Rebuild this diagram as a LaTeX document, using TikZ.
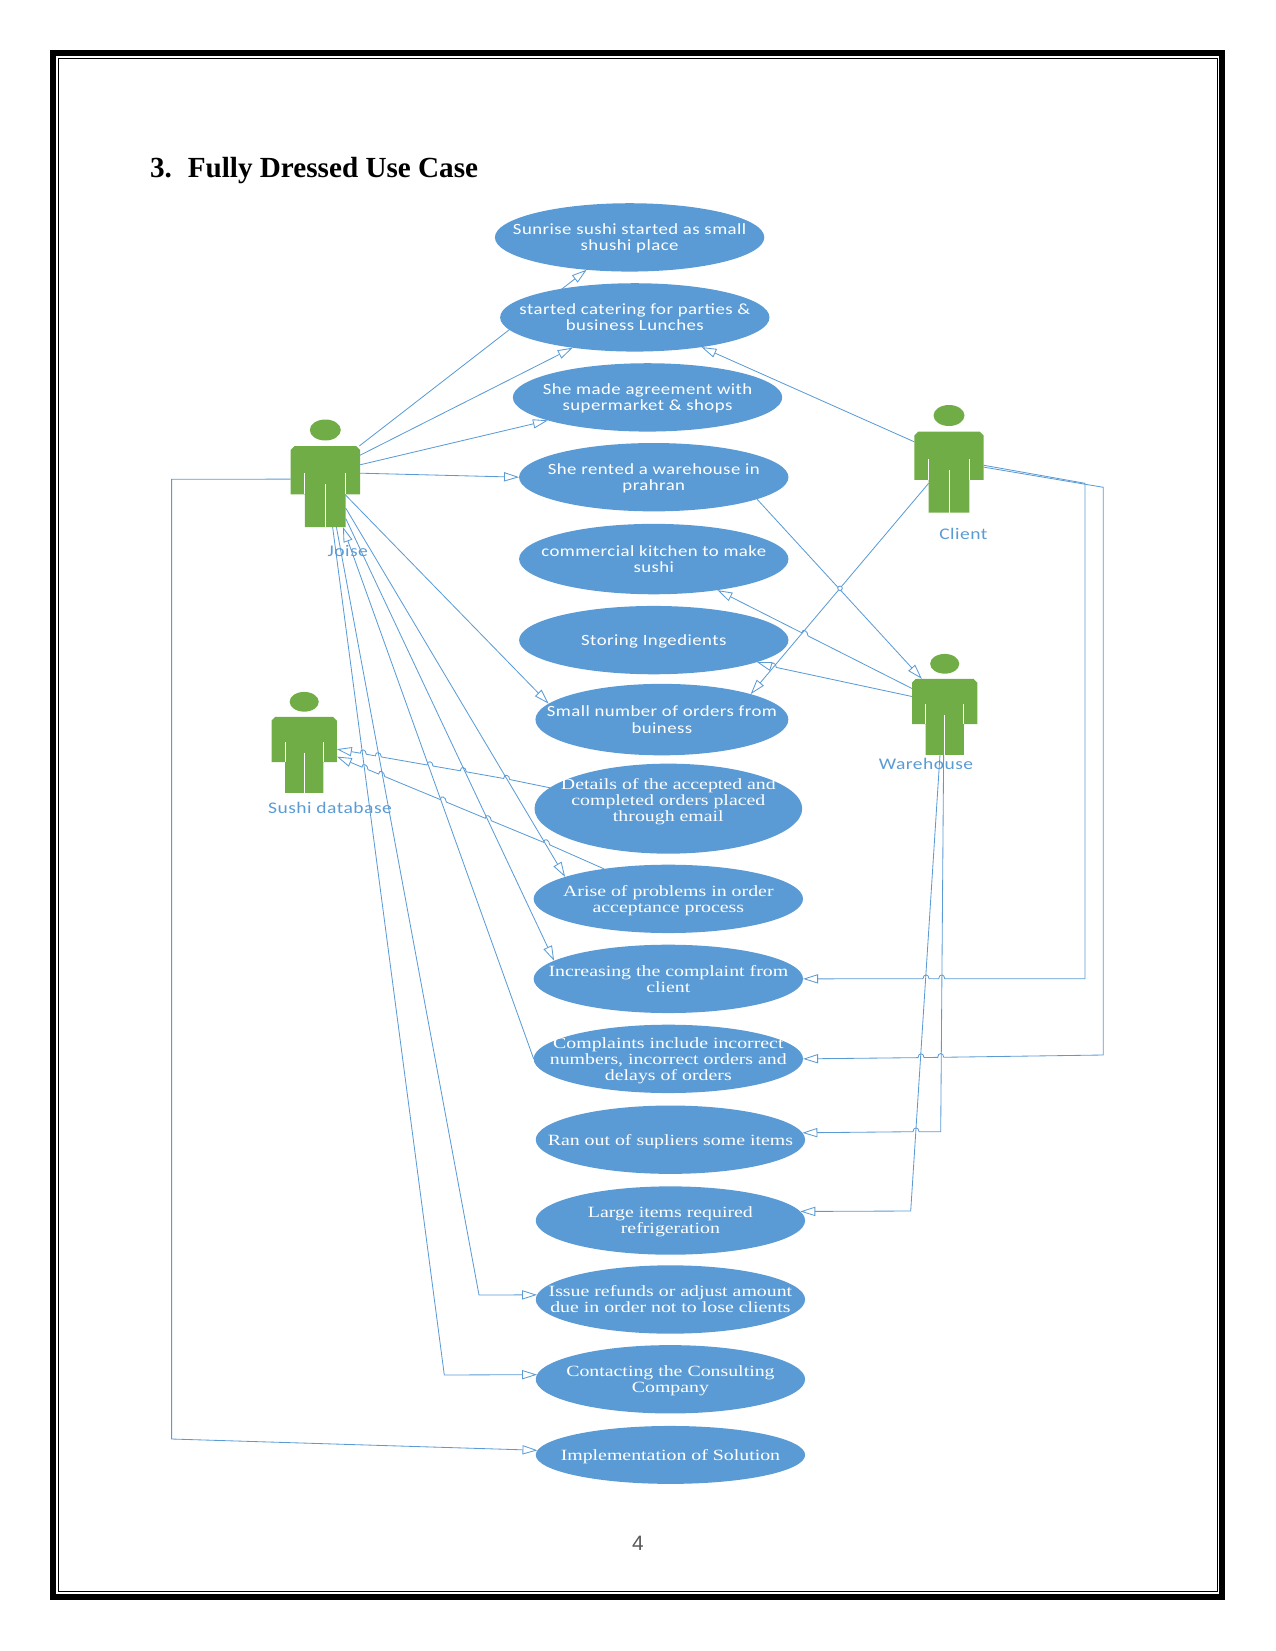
\documentclass[tikz,border=0pt]{standalone}
\usepackage{fontspec}
\setmainfont{Liberation Serif}
\newfontfamily\ucsans[FakeStretch=1.2, LetterSpace=3]{Carlito}
\newfontfamily\ucserif[FakeStretch=1.27]{Liberation Serif}
\newfontfamily\pagesans{Liberation Sans}
\usepackage{xcolor}
\usetikzlibrary{arrows.meta, positioning, shapes.geometric, backgrounds}
\definecolor{ucblue}{RGB}{91,155,213}
\definecolor{actorgreen}{RGB}{112,173,71}
\newcommand{\uctext}[2][-2.8pt]{\makebox[0pt]{\smash{\raisebox{#1}{\begin{tabular}{@{}c@{}}#2\end{tabular}}}}}
\newcommand{\hop}[3]{-- (#1-3,#2-3*#3) .. controls (#1-3,#2-3*#3-5) and (#1+3,#2+3*#3-5) .. (#1+3,#2+3*#3)}

\begin{document}
\begin{tikzpicture}[
    x=0.48pt, y=-0.48pt,
    node distance=5.6pt,
    usecase/.style={ellipse, fill=ucblue, text=white, inner sep=0pt, outer sep=0pt, minimum width=129.3pt, minimum height=32.8pt, font=\ucsans\fontsize{7.5pt}{7.7pt}\selectfont},
    sericase/.style={usecase, font=\ucserif\fontsize{7.5pt}{7.7pt}\selectfont},
    actorlabel/.style={text=ucblue, inner sep=0pt, font=\ucsans\fontsize{7.8pt}{8pt}\selectfont},
    actorpart/.style={rectangle, inner sep=0pt, outer sep=0pt, transform shape},
    wire/.style={draw=ucblue, line width=0.4pt, >={Triangle[open, fill=white, length=7.2pt, width=4.4pt]}},
    pics/actor/.style={code={
        \begin{scope}[scale=#1]
        \fill [actorgreen] (0,-56.5) ellipse (15.5 and 10.5);
        \fill [actorgreen] (-30.7,-40.5) -- (30.7,-40.5) -- (34.7,-36.5) -- (34.7,7.8) -- (20.4,7.8) -- (20.4,40.5) -- (-20.4,40.5) -- (-20.4,7.8) -- (-34.7,7.8) -- (-34.7,-36.5) -- cycle;
        \draw [white, line width=0.4pt] (-20.4,-13.2) -- (-20.4,7.8) (20.4,-13.2) -- (20.4,7.8) (0,-2.5) -- (0,40.5);
        \node (-body) [actorpart, minimum width=33.3pt, minimum height=38.9pt] at (0,0) {};
        \node (-legs) [actorpart, minimum width=19.6pt, minimum height=15.8pt] at (0,24.1) {};
        \end{scope}
    }}
]
\useasboundingbox (0,0) rectangle (1275,1651);

% page frame and heading
\draw [line width=2.88pt] (53,53) rectangle (1222,1597);
\draw [line width=0.48pt] (58.5,58.3) rectangle (1217.5,1591.5);
\node (title) [anchor=base west, inner sep=0pt, font=\bfseries\fontsize{14pt}{16pt}\selectfont] at (149.7,177.4) {3.\hspace{7.6pt}Fully Dressed Use Case};
\node (pagenum) [text=black!65, font=\pagesans\fontsize{10pt}{12pt}\selectfont] at (638,1543) {4};

% use cases
\node (sunrise) [usecase] at (629.6,237.4) {\uctext{Sunrise sushi started as small\\shushi place}};
\node (catering) [usecase, below=of sunrise, xshift=2.5pt] {\uctext{started catering for parties \&\\business Lunches}};
\node (agreement) [usecase, below=of catering, xshift=6.1pt] {\uctext{She made agreement with\\supermarket \& shops}};
\node (rented) [usecase, below=5.5pt of agreement, xshift=3pt] {\uctext{She rented a warehouse in\\prahran}};
\node (kitchen) [usecase, below=6pt of rented, minimum height=33.8pt] {\uctext{commercial kitchen to make\\sushi}};
\node (storing) [usecase, below=of kitchen] {\uctext{Storing Ingedients}};
\node (orders) [usecase, below=4.6pt of storing, xshift=3.9pt, minimum width=121.4pt, minimum height=34.3pt] {\uctext{Small number of orders from\\buiness}};
\node (details) [sericase, below=4pt of orders, xshift=3.1pt, minimum width=128.5pt, minimum height=43.2pt] {\uctext[1.5pt]{Details of the accepted and\\completed orders placed\\through email}};
\node (arise) [sericase, below=5.3pt of details] {\uctext{Arise of problems in order\\acceptance process}};
\node (complaint) [sericase, below=of arise] {\uctext{Increasing the complaint from\\client}};
\node (incorrect) [sericase, below=of complaint] {\uctext{Complaints include incorrect\\numbers, incorrect orders and\\delays of orders}};
\node (suppliers) [sericase, below=6pt of incorrect, xshift=1pt] {\uctext{Ran out of supliers some items}};
\node (large) [sericase, below=6pt of suppliers] {\uctext{Large items required\\refrigeration}};
\node (refunds) [sericase, below=5.1pt of large] {\uctext{Issue refunds or adjust amount\\due in order not to lose clients}};
\node (consulting) [sericase, below=5.5pt of refunds] {\uctext{Contacting the Consulting\\Company}};
\node (solution) [sericase, below=6pt of consulting, minimum height=27.8pt] {\uctext{Implementation of Solution}};

% actors
\pic (joise) at (325.3,486.5) {actor=1};
\pic (client) at (949,472) {actor=1};
\pic (warehouse) at (944.7,716.9) {actor=0.94};
\pic (sushidb) at (304.2,754.9) {actor=0.94};
\node (joiselabel) [actorlabel] at (347.7,551.3) {Joise};
\node (clientlabel) [actorlabel] at (963.3,533.7) {Client};
\node (warehouselabel) [actorlabel] at (926,764) {Warehouse};
\node (sushilabel) [actorlabel] at (330,808.3) {Sushi database};

% bends
\coordinate (refundbend) at (479,1295);
\coordinate (consultbend) at (444.3,1375);
\coordinate (solutiontop) at (171.6,479.3);
\coordinate (solutionbend) at (171.6,1439);
\coordinate (complainttop) at (1085,483.3);
\coordinate (complaintbend) at (1085,978.7);
\coordinate (incorrecttop) at (1103.3,487.3);
\coordinate (incorrectbend) at (1103.3,1055);
\coordinate (supplierbend) at (940.7,1131.7);
\coordinate (largebend) at (910.7,1211);

\begin{scope}[on background layer]
% joise
\draw [wire, ->] (joise-body.50) -- (sunrise.217);
\draw [wire, ->] (joise-body.42) -- (catering.206);
\draw [wire, ->] (joise-body.32) -- (agreement.193);
\draw [wire, ->] (joise-body.21) -- (rented.west);
\draw [wire, ->] (joise-legs.37) -- (orders.172);
\draw [wire, ->] (joise-legs.7) -- (arise.168);
\draw [wire, ->] (joise-legs.-21) -- (complaint.171);
\draw [wire, <-] (joise-legs.-43) -- (incorrect.west);
\draw [wire, ->] (joise-legs.-56) -- (refundbend) -- (refunds.178);
\draw [wire, ->] (joise-legs.-66) -- (consultbend) -- (consulting.178);
\draw [wire, ->] (joise-body.168) -- (solutiontop) -- (solutionbend) -- (solution.178);
% client
\draw [wire, ->] (client-body.139) -- (catering.-24);
\draw [wire, ->] (client-legs.148) -- (orders.16);
\draw [wire, <-] (complaint.east) \hop{926}{978.7}{0} \hop{941.7}{978.7}{0} -- (complaintbend) -- (complainttop) -- (client-body.11);
\draw [wire, <-] (incorrect.east) \hop{921}{1057.6}{-0.011} \hop{940.7}{1057.3}{-0.011} -- (incorrectbend) -- (incorrecttop) -- (client-body.8);
% warehouse
\draw [wire, ->] (rented.-12) -- (warehouse-body.121);
\draw [wire, <-] (kitchen.-26) \hop{805}{634.4}{0.5} -- (warehouse-body.139);
\draw [wire, <-] (storing.-12) \hop{773.3}{666.8}{0.21} -- (warehouse-body.148);
\draw [wire, <-] (suppliers.3) \hop{916}{1131.7}{0} -- (supplierbend) -- (warehouse-legs.-94);
\draw [wire, <-] (large.4) -- (largebend) -- (warehouse-legs.253);
% sushi database
\draw [wire, <-] (sushidb-body.10) \hop{363.3}{753.7}{0.176} \hop{378.3}{756.4}{0.176} \hop{430}{765.5}{0.176} \hop{463.3}{771.3}{0.176} \hop{506.7}{779}{0.176} -- (details.170);
\draw [wire, <-] (sushidb-body.-3) \hop{365}{768.4}{0.414} \hop{381.7}{775.3}{0.414} \hop{443.3}{800.8}{0.414} \hop{488.3}{819.5}{0.414} \hop{546.7}{843.6}{0.414} -- (arise.155);
\end{scope}

\node (crossing) [circle, draw=ucblue, fill=white, line width=0.4pt, inner sep=0pt, minimum size=2.2pt] at (840,588.3) {};
\end{tikzpicture}
\end{document}
